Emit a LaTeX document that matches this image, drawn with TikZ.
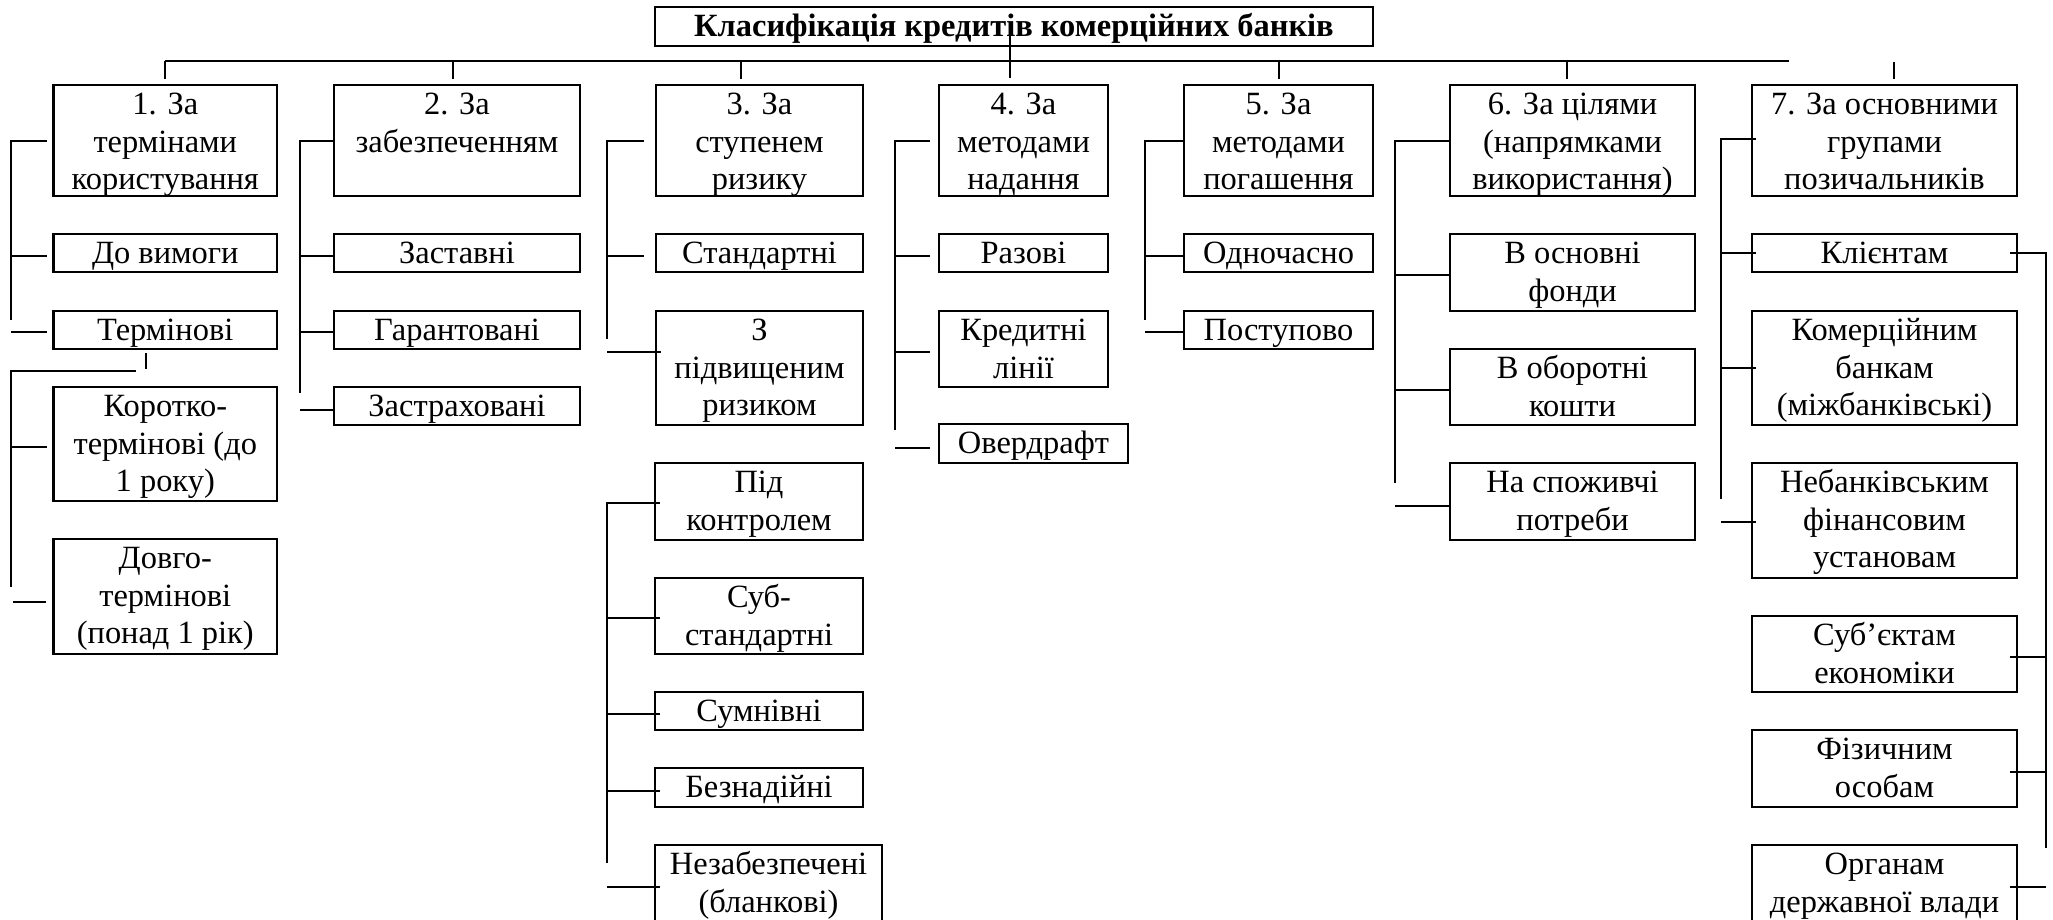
\documentclass[tikz,border=0pt]{standalone}
\usepackage{fontspec}
\setmainfont{Liberation Serif}
\newcommand\kbox[6]{%
  \pgfmathsetmacro\kbw{(#4-#2)*0.4315}%
  \pgfmathsetmacro\kbh{(#5-#3)*0.4315}%
  \node[box, minimum width=\kbw pt, minimum height=\kbh pt] (#1) at ({(#2+#4)/2},{(#3+#5)/2})
    {\parbox[c][\kbh pt][t]{\kbw pt}{\centering\rule{0pt}{12.9pt}#6\par}};}
\tikzset{
  box/.style={draw, line width=1.1pt, inner sep=0pt, outer sep=0pt, font=\fontsize{14}{16.1}\selectfont},
  ln/.style={line width=1pt},
  busln/.style={line width=0.9pt}
}
\begin{document}
\begin{tikzpicture}[x=0.4315pt, y=-0.4315pt]
\useasboundingbox (0,0) rectangle (2053,920);
% title
\kbox{title}{655}{7}{1373}{46}{\bfseries Класифікація кредитів комерційних банків}
% bus
\draw[busln] (165,61) -- (1789,61);
\draw[ln] (1010,35) -- (1010,78);
\foreach \sx in {165,453,741,1279,1567} \draw[ln] (\sx,61) -- (\sx,79);
\draw[ln] (1894,62) -- (1894,79);
% group 1
\kbox{b1}{53.6}{85}{277}{196}{1. За\\термінами\\користування}
\kbox{d1}{53.6}{234}{277}{272}{До вимоги}
\kbox{t1}{53.6}{311}{277}{349}{Термінові}
\kbox{k1}{53.6}{387}{277}{501}{Коротко-\\термінові (до\\1 року)}
\kbox{l1}{53.6}{539}{277}{654}{Довго-\\термінові\\(понад 1 рік)}
\draw[ln] (47,141) -- (11,141) -- (11,320);
\draw[ln] (11,256) -- (47,256);
\draw[ln] (11,332) -- (47,332);
\draw[ln] (146,353) -- (146,369);
\draw[ln] (136,371) -- (11,371) -- (11,587);
\draw[ln] (11,447) -- (47,447);
\draw[ln] (13,602) -- (46,602);
% group 2
\kbox{b2}{334}{85}{580}{196}{2. За\\забезпеченням}
\kbox{z2}{334}{234}{580}{272}{Заставні}
\kbox{g2}{334}{311}{580}{349}{Гарантовані}
\kbox{s2}{334}{387}{580}{425}{Застраховані}
\draw[ln] (334,141) -- (300,141) -- (300,393);
\draw[ln] (300,256) -- (334,256);
\draw[ln] (300,332) -- (334,332);
\draw[ln] (300,410) -- (334,410);
% group 3
\kbox{b3}{656}{85}{863}{196}{3. За\\ступенем\\ризику}
\kbox{st3}{656}{234}{863}{272}{Стандартні}
\kbox{p3}{656}{311}{863}{425}{З\\підвищеним\\ризиком}
\kbox{pk3}{655}{463}{863}{540}{Під\\контролем}
\kbox{ss3}{655}{578}{863}{654}{Суб-\\стандартні}
\kbox{sm3}{655}{692}{863}{730}{Сумнівні}
\kbox{bz3}{655}{768}{863}{807}{Безнадійні}
\kbox{nz3}{655}{845}{882}{926}{Незабезпечені\\(бланкові)}
\draw[ln] (644,141) -- (607,141) -- (607,339);
\draw[ln] (607,256) -- (644,256);
\draw[ln] (607,352) -- (661,352);
\draw[ln] (660,503) -- (607,503) -- (607,863);
\foreach \ty in {618,714,791} \draw[ln] (607,\ty) -- (660,\ty);
\draw[ln] (607,887) -- (660,887);
% group 4
\kbox{b4}{939}{85}{1108}{196}{4. За\\методами\\надання}
\kbox{r4}{939}{234}{1108}{272}{Разові}
\kbox{kl4}{939}{311}{1108}{387}{Кредитні\\лінії}
\kbox{ov4}{939}{424}{1128}{463}{Овердрафт}
\draw[ln] (930,141) -- (895,141) -- (895,430);
\draw[ln] (895,256) -- (930,256);
\draw[ln] (895,352) -- (930,352);
\draw[ln] (895,448) -- (930,448);
% group 5
\kbox{b5}{1184}{85}{1373}{196}{5. За\\методами\\погашення}
\kbox{o5}{1184}{234}{1373}{272}{Одночасно}
\kbox{p5}{1184}{311}{1373}{349}{Поступово}
\draw[ln] (1183,141) -- (1145,141) -- (1145,320);
\draw[ln] (1145,256) -- (1183,256);
\draw[ln] (1145,332) -- (1183,332);
% group 6
\kbox{b6}{1450}{85}{1695}{196}{6. За цілями\\(напрямками\\використання)}
\kbox{of6}{1450}{234}{1695}{311}{В основні\\фонди}
\kbox{ok6}{1450}{349}{1695}{425}{В оборотні\\кошти}
\kbox{sp6}{1450}{463}{1695}{540}{На споживчі\\потреби}
\draw[ln] (1450,141) -- (1395,141) -- (1395,483);
\draw[ln] (1395,275) -- (1450,275);
\draw[ln] (1395,390) -- (1450,390);
\draw[ln] (1395,506) -- (1450,506);
% group 7
\kbox{b7}{1752}{85}{2017}{196}{7. За основними\\групами\\позичальників}
\kbox{kl7}{1752}{234}{2017}{272}{Клієнтам}
\kbox{km7}{1752}{311}{2017}{425}{Комерційним\\банкам\\(міжбанківські)}
\kbox{nb7}{1752}{463}{2017}{578}{Небанківським\\фінансовим\\установам}
\kbox{se7}{1752}{616}{2017}{692}{Суб’єктам\\економіки}
\kbox{fo7}{1752}{730}{2017}{807}{Фізичним\\особам}
\kbox{od7}{1752}{845}{2017}{926}{Органам\\державної влади}
\draw[ln] (1756,139) -- (1721,139) -- (1721,499);
\draw[ln] (1721,253) -- (1756,253);
\draw[ln] (1721,368) -- (1756,368);
\draw[ln] (1721,522) -- (1756,522);
\draw[ln] (2010,253) -- (2046,253) -- (2046,848);
\draw[ln] (2010,657) -- (2046,657);
\draw[ln] (2010,772) -- (2046,772);
\draw[ln] (2010,887) -- (2046,887);
\end{tikzpicture}
\end{document}
